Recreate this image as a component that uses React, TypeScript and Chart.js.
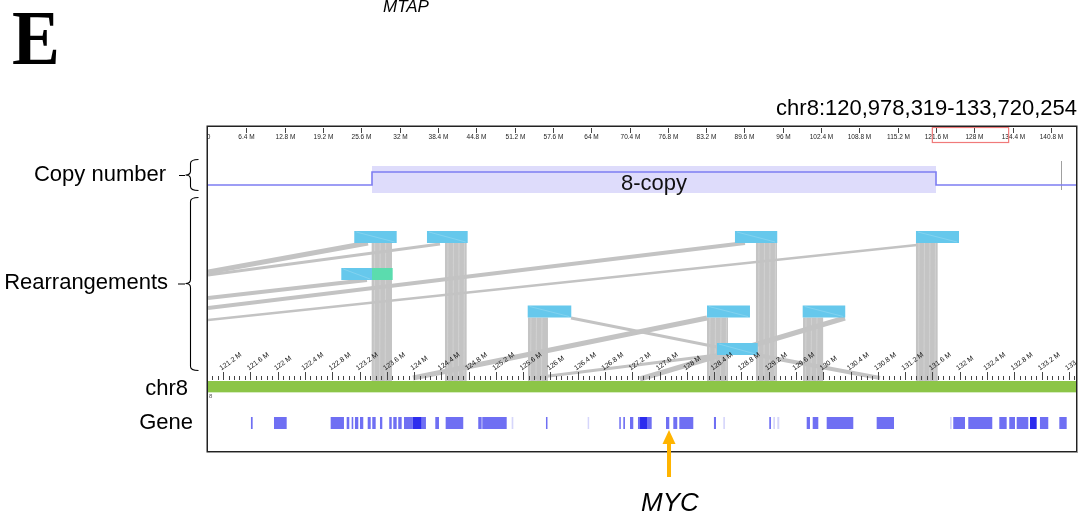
import React, { useEffect, useRef } from "react";
import { Chart, registerables } from "chart.js";
Chart.register(...registerables);

// ---------------- data ----------------
const REGION_START = 120.978319; // Mb
const REGION_END = 133.720254; // Mb
const CHR8_LENGTH = 145.138636; // Mb

const overviewTicks = [0, 6.4, 12.8, 19.2, 25.6, 32, 38.4, 44.8, 51.2, 57.6, 64, 70.4, 76.8, 83.2, 89.6, 96, 102.4, 108.8, 115.2, 121.6, 128, 134.4, 140.8];
const overviewTickLabels = ["0", "6.4 M", "12.8 M", "19.2 M", "25.6 M", "32 M", "38.4 M", "44.8 M", "51.2 M", "57.6 M", "64 M", "70.4 M", "76.8 M", "83.2 M", "89.6 M", "96 M", "102.4 M", "108.8 M", "115.2 M", "121.6 M", "128 M", "134.4 M", "140.8 M"];

const regionTicks = [121.2, 121.6, 122, 122.4, 122.8, 123.2, 123.6, 124, 124.4, 124.8, 125.2, 125.6, 126, 126.4, 126.8, 127.2, 127.6, 128, 128.4, 128.8, 129.2, 129.6, 130, 130.4, 130.8, 131.2, 131.6, 132, 132.4, 132.8, 133.2, 133.6];
const regionTickLabels = ["121.2 M", "121.6 M", "122 M", "122.4 M", "122.8 M", "123.2 M", "123.6 M", "124 M", "124.4 M", "124.8 M", "125.2 M", "125.6 M", "126 M", "126.4 M", "126.8 M", "127.2 M", "127.6 M", "128 M", "128.4 M", "128.8 M", "129.2 M", "129.6 M", "130 M", "130.4 M", "130.8 M", "131.2 M", "131.6 M", "132 M", "132.4 M", "132.8 M", "133.2 M", "133.6 M"];

// copy number segment (Mb)
const copySegStart = 123.383;
const copySegEnd = 131.653;
const copySegLabel = "8-copy";
const copyMarkerPos = 133.485;

// rearrangement segments: [start Mb, end Mb, row]
const segStarts = [123.123, 124.189, 128.705, 131.359, 122.933, 125.666, 128.295, 129.698, 128.441];
const segEnds = [123.745, 124.786, 129.325, 131.990, 123.383, 126.305, 128.925, 130.322, 129.038];
const segRows = [0, 0, 0, 0, 1, 2, 2, 2, 3];
const greenSeg = [123.383, 123.686, 1];

// vertical bundles from segments down to chr8: [start, end, row]
const bundleStarts = [123.378, 124.453, 129.013, 131.359, 125.670, 128.295, 129.703];
const bundleEnds = [123.676, 124.771, 129.321, 131.677, 125.963, 128.603, 129.998];
const bundleRows = [0, 0, 0, 0, 2, 2, 2];

// diagonal links: x in Mb, y in track units, width
const linkX1 = [120.978319, 120.978319, 120.978319, 120.978319, 120.978319, 123.984, 126.301, 127.312, 129.028, 125.743];
const linkY1 = [145, 148, 171, 181, 193, 251, 191, 252, 228, 251];
const linkX2 = [123.324, 124.380, 123.309, 128.852, 131.374, 128.295, 128.441, 130.318, 130.831, 128.441];
const linkY2 = [116, 117, 153, 116, 118, 191, 220, 191, 251, 228];
const linkW = [5, 3, 4, 4, 2.5, 5, 3, 5, 4, 3];

// genes (Mb)
const geneStarts = [121.608, 121.946, 122.777, 123.012, 123.085, 123.133, 123.207, 123.320, 123.387, 123.500, 123.636, 123.695, 123.768, 123.852, 124.111, 124.311, 124.463, 124.941, 125.000, 125.934, 127.009, 127.068, 127.166, 127.283, 127.694, 127.801, 127.889, 128.397, 129.208, 129.757, 129.845, 130.050, 130.783, 131.906, 132.126, 132.581, 132.727, 132.836, 133.177, 133.461];
const geneEnds = [121.633, 122.132, 122.972, 123.050, 123.108, 123.182, 123.255, 123.364, 123.437, 123.534, 123.672, 123.745, 123.818, 123.979, 124.174, 124.365, 124.721, 124.991, 125.358, 125.953, 127.029, 127.092, 127.214, 127.484, 127.742, 127.859, 128.094, 128.427, 129.233, 129.805, 129.927, 130.440, 131.037, 132.078, 132.478, 132.689, 132.811, 133.006, 133.299, 133.569];
const darkGeneStarts = [123.979, 127.313, 133.031];
const darkGeneEnds = [124.111, 127.415, 133.129];
const faintGeneStarts = [125.431, 126.545, 128.534, 129.267, 129.326, 131.858];
const faintGeneEnds = [125.455, 126.560, 128.558, 129.292, 129.355, 131.883];

const MYC_POS = 127.738;

// ---------------- layout (track units = px below plot top) ----------------
const TRACK = {
  cnTop: 39, cnBottom: 66, cnHigh: 45, cnBase: 58,
  rowTops: [104, 141, 178.5, 216], rowH: 12,
  axisTop: 253, majorTick: 8, minorTick: 4,
  barTop: 254, barBottom: 265,
  geneTop: 290, geneBottom: 302,
  total: 325,
};

const FONT = '"Liberation Sans", Arial, sans-serif';

function drawBrace(ctx: CanvasRenderingContext2D, x: number, y0: number, y1: number, ym: number) {
  ctx.beginPath();
  ctx.moveTo(x + 8, y0);
  ctx.quadraticCurveTo(x, y0, x, y0 + 4);
  ctx.lineTo(x, ym - 4);
  ctx.quadraticCurveTo(x, ym, x - 5, ym);
  ctx.quadraticCurveTo(x, ym, x, ym + 4);
  ctx.lineTo(x, y1 - 4);
  ctx.quadraticCurveTo(x, y1, x + 8, y1);
  ctx.stroke();
}

const trackPlugin = {
  id: "tracks",
  beforeDatasetsDraw(chart: any) {
    const ctx: CanvasRenderingContext2D = chart.ctx;
    const X = chart.scales.x, Y = chart.scales.y;
    const area = chart.chartArea;
    ctx.save();
    ctx.beginPath();
    ctx.rect(area.left, area.top, area.right - area.left, area.bottom - area.top);
    ctx.clip();
    // copy number shade
    ctx.fillStyle = "#dedcfb";
    const sx = X.getPixelForValue(copySegStart), ex = X.getPixelForValue(copySegEnd);
    ctx.fillRect(sx, Y.getPixelForValue(TRACK.cnTop), ex - sx, Y.getPixelForValue(TRACK.cnBottom) - Y.getPixelForValue(TRACK.cnTop));
    // marker
    ctx.strokeStyle = "#a0a0a0";
    ctx.lineWidth = 1;
    const mx = Math.round(X.getPixelForValue(copyMarkerPos)) + 0.5;
    ctx.beginPath();
    ctx.moveTo(mx, Y.getPixelForValue(34));
    ctx.lineTo(mx, Y.getPixelForValue(63));
    ctx.stroke();
    // bundles
    for (let i = 0; i < bundleStarts.length; i++) {
      const b0 = X.getPixelForValue(bundleStarts[i]);
      const b1 = X.getPixelForValue(bundleEnds[i]);
      const top = Y.getPixelForValue(TRACK.rowTops[bundleRows[i]] + TRACK.rowH);
      const bot = Y.getPixelForValue(TRACK.axisTop + 1);
      ctx.fillStyle = "#c4c4c4";
      ctx.fillRect(b0, top, b1 - b0, bot - top);
      ctx.strokeStyle = "rgba(255,255,255,0.28)";
      ctx.lineWidth = 0.8;
      for (let x = b0 + 3; x < b1 - 1; x += 5.5) {
        ctx.beginPath();
        ctx.moveTo(x, top);
        ctx.lineTo(x - 0.5, bot);
        ctx.stroke();
      }
    }
    ctx.restore();
  },
  afterDatasetsDraw(chart: any) {
    const ctx: CanvasRenderingContext2D = chart.ctx;
    const X = chart.scales.x, XT = chart.scales.xTop, Y = chart.scales.y;
    const area = chart.chartArea;
    const py = (v: number) => Y.getPixelForValue(v);
    ctx.save();
    ctx.beginPath();
    ctx.rect(area.left, area.top, area.right - area.left, area.bottom - area.top);
    ctx.clip();

    // copy label
    ctx.fillStyle = "#111";
    ctx.font = `22px ${FONT}`;
    ctx.textAlign = "center";
    ctx.textBaseline = "middle";
    ctx.fillText(copySegLabel, (X.getPixelForValue(copySegStart) + X.getPixelForValue(copySegEnd)) / 2, py(57));

    // segments
    for (let i = 0; i < segStarts.length; i++) {
      const a = X.getPixelForValue(segStarts[i]);
      const b = X.getPixelForValue(segEnds[i]);
      const t = py(TRACK.rowTops[segRows[i]]);
      ctx.fillStyle = "#66c8ec";
      ctx.fillRect(a, t, b - a, TRACK.rowH);
      ctx.strokeStyle = "rgba(255,255,255,0.3)";
      ctx.lineWidth = 0.6;
      ctx.beginPath();
      ctx.moveTo(a + 2, t + 1);
      ctx.lineTo(b - 2, t + TRACK.rowH - 1);
      ctx.stroke();
    }
    {
      const a = X.getPixelForValue(greenSeg[0]);
      const b = X.getPixelForValue(greenSeg[1]);
      const t = py(TRACK.rowTops[greenSeg[2]]);
      ctx.fillStyle = "#5bdcae";
      ctx.fillRect(a, t, b - a, TRACK.rowH);
    }

    // chr8 bar
    ctx.fillStyle = "#8cc547";
    ctx.fillRect(area.left, py(TRACK.barTop), area.right - area.left, py(TRACK.barBottom) - py(TRACK.barTop));
    ctx.fillStyle = "#d6ecc0";
    ctx.fillRect(area.left, py(TRACK.barBottom), area.right - area.left, 1);

    // ticks on chr8 axis
    ctx.strokeStyle = "#444";
    ctx.lineWidth = 1;
    const k0 = Math.ceil(REGION_START / 0.08), k1 = Math.floor(REGION_END / 0.08);
    for (let k = k0; k <= k1; k++) {
      const x = Math.round(X.getPixelForValue(k * 0.08)) + 0.5;
      const len = k % 5 === 0 ? TRACK.majorTick : TRACK.minorTick;
      ctx.beginPath();
      ctx.moveTo(x, py(TRACK.axisTop));
      ctx.lineTo(x, py(TRACK.axisTop) - len);
      ctx.stroke();
    }
    ctx.fillStyle = "#111";
    ctx.font = `7px ${FONT}`;
    ctx.textAlign = "left";
    ctx.textBaseline = "alphabetic";
    for (let i = 0; i < regionTicks.length; i++) {
      const x = X.getPixelForValue(regionTicks[i]);
      ctx.save();
      ctx.translate(x - 1.5, py(TRACK.axisTop) - 9.5);
      ctx.rotate((-36 * Math.PI) / 180);
      ctx.fillText(regionTickLabels[i], 0, 0);
      ctx.restore();
    }
    ctx.fillStyle = "#555";
    ctx.font = `6px ${FONT}`;
    ctx.fillText("8", area.left + 1, py(TRACK.barBottom) + 6);

    // genes
    const gt = py(TRACK.geneTop), gh = py(TRACK.geneBottom) - gt;
    const drawGenes = (s: number[], e: number[], color: string) => {
      ctx.fillStyle = color;
      for (let i = 0; i < s.length; i++) {
        const a = X.getPixelForValue(s[i]);
        const b = X.getPixelForValue(e[i]);
        ctx.fillRect(a, gt, Math.max(1.5, b - a), gh);
      }
    };
    drawGenes(faintGeneStarts, faintGeneEnds, "rgba(90,90,240,0.25)");
    drawGenes(geneStarts, geneEnds, "rgba(70,70,240,0.78)");
    drawGenes(darkGeneStarts, darkGeneEnds, "#2c2cee");

    // overview ruler
    ctx.strokeStyle = "#444";
    ctx.fillStyle = "#222";
    ctx.font = `6.5px ${FONT}`;
    ctx.textAlign = "center";
    ctx.textBaseline = "middle";
    for (let i = 0; i < overviewTicks.length; i++) {
      const x = Math.round(XT.getPixelForValue(overviewTicks[i])) + 0.5;
      if (i > 0) {
        ctx.beginPath();
        ctx.moveTo(x, area.top + 1);
        ctx.lineTo(x, area.top + 6);
        ctx.stroke();
      }
      ctx.fillText(overviewTickLabels[i], x, area.top + 10.5);
    }
    ctx.strokeStyle = "#f07a7a";
    ctx.lineWidth = 1.2;
    const r0 = XT.getPixelForValue(REGION_START), r1 = XT.getPixelForValue(REGION_END);
    ctx.strokeRect(r0, area.top + 0.5, r1 - r0, 15);
    ctx.restore();

    // border
    ctx.save();
    ctx.strokeStyle = "#222";
    ctx.lineWidth = 1.5;
    ctx.strokeRect(area.left - 0.75, area.top - 0.75, area.right - area.left + 0.5, area.bottom - area.top + 0.5);
    ctx.strokeStyle = "#999";
    ctx.lineWidth = 1;
    ctx.beginPath();
    ctx.moveTo(area.right + 0.5, area.top + 2);
    ctx.lineTo(area.right + 0.5, area.bottom + 0.5);
    ctx.lineTo(area.left + 2, area.bottom + 0.5);
    ctx.stroke();

    // outer texts
    ctx.fillStyle = "#000";
    ctx.textAlign = "right";
    ctx.font = `22px ${FONT}`;
    const fmt = (v: number) => Math.round(v * 1e6).toLocaleString("en-US");
    ctx.textBaseline = "alphabetic";
    ctx.fillText(`chr8:${fmt(REGION_START)}-${fmt(REGION_END)}`, area.right, 115);
    ctx.textBaseline = "middle";
    ctx.font = `22px ${FONT}`;
    ctx.fillText("Copy number", 166, 175);
    ctx.fillText("Rearrangements", 168, 283);
    ctx.fillText("chr8", 188, 389);
    ctx.fillText("Gene", 193, 423);

    ctx.strokeStyle = "#000";
    ctx.lineWidth = 1.1;
    drawBrace(ctx, 190.5, 159.5, 190.5, 175);
    drawBrace(ctx, 190.5, 197.5, 370.5, 283.5);
    ctx.beginPath();
    ctx.moveTo(179, 175.5);
    ctx.lineTo(185, 175.5);
    ctx.moveTo(178, 284);
    ctx.lineTo(185, 284);
    ctx.stroke();

    // panel letter
    ctx.save();
    ctx.translate(12, 64);
    ctx.scale(0.92, 1);
    ctx.textAlign = "left";
    ctx.textBaseline = "alphabetic";
    ctx.font = `bold 78px "Liberation Serif", "Times New Roman", serif`;
    ctx.fillText("E", 0, 0);
    ctx.restore();

    ctx.textAlign = "left";
    ctx.textBaseline = "alphabetic";
    ctx.font = `italic 17px ${FONT}`;
    ctx.fillText("MTAP", 383, 11.5);

    // MYC arrow
    const ax = X.getPixelForValue(MYC_POS);
    ctx.fillStyle = "#ffb400";
    ctx.fillRect(ax - 2, 443, 4, 34);
    ctx.beginPath();
    ctx.moveTo(ax, 430);
    ctx.lineTo(ax + 6.5, 444);
    ctx.lineTo(ax - 6.5, 444);
    ctx.closePath();
    ctx.fill();
    ctx.fillStyle = "#000";
    ctx.textAlign = "center";
    ctx.font = `italic 26px ${FONT}`;
    ctx.fillText("MYC", ax + 1, 511);
    ctx.restore();
  },
};

export default function App() {
  const ref = useRef<HTMLCanvasElement | null>(null);
  useEffect(() => {
    if (!ref.current) return;
    const datasets: any[] = [];
    // copy number step line
    datasets.push({
      type: "line",
      data: [
        { x: REGION_START, y: TRACK.cnBase },
        { x: copySegStart, y: TRACK.cnBase },
        { x: copySegStart, y: TRACK.cnHigh },
        { x: copySegEnd, y: TRACK.cnHigh },
        { x: copySegEnd, y: TRACK.cnBase },
        { x: REGION_END, y: TRACK.cnBase },
      ],
      borderColor: "#7d7df2",
      borderWidth: 1.6,
      pointRadius: 0,
      showLine: true,
      tension: 0,
    });
    for (let i = 0; i < linkX1.length; i++) {
      datasets.push({
        type: "line",
        data: [
          { x: linkX1[i], y: linkY1[i] },
          { x: linkX2[i], y: linkY2[i] },
        ],
        borderColor: "#c3c3c3",
        borderWidth: linkW[i],
        pointRadius: 0,
        showLine: true,
      });
    }
    const chart = new Chart(ref.current, {
      type: "scatter",
      data: { datasets },
      options: {
        responsive: false,
        animation: false,
        events: [],
        layout: { padding: { left: 208, right: 12, top: 127, bottom: 68 } },
        scales: {
          x: { type: "linear", min: REGION_START, max: REGION_END, display: false },
          xTop: { type: "linear", axis: "x", min: 0, max: CHR8_LENGTH, display: false },
          y: { type: "linear", min: 0, max: TRACK.total, reverse: true, display: false },
        },
        plugins: { legend: { display: false }, tooltip: { enabled: false } },
      } as any,
      plugins: [trackPlugin],
    });
    return () => chart.destroy();
  }, []);
  return (
    <canvas
      ref={ref}
      width={1089}
      height={520}
      style={{ position: "fixed", left: 0, top: 0, width: 1089, height: 520, background: "#fff" }}
    />
  );
}
